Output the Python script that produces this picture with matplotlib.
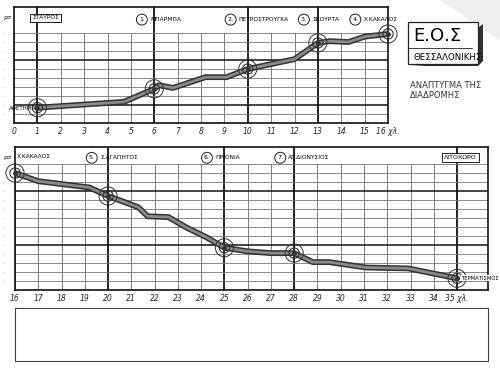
import numpy as np
import matplotlib
matplotlib.use("Agg")
import matplotlib.pyplot as plt
from matplotlib.patches import Rectangle, Polygon

# top profile: km 0-16
top_km = [1, 4.7, 6, 6.2, 6.8, 8.2, 9.1, 10, 12, 13, 13.5, 14.3, 15, 16]
top_alt = [1.7, 2.35, 3.8, 4.2, 3.9, 5.1, 5.1, 6.0, 7.1, 8.9, 9.1, 9.0, 9.6, 9.9]
top_stop_km = [1, 6, 10, 13, 16]
top_stop_alt = [1.7, 3.8, 6.0, 8.9, 9.9]
top_ticks = list(range(0, 17))

# bottom profile: km 16-35
bot_km = [16, 17, 19.2, 20, 21.3, 21.7, 22.6, 23.4, 24.2, 25, 26, 27, 28, 28.8, 29.5, 31.1, 32.9, 35]
bot_alt = [13.0, 12.1, 11.4, 10.45, 9.2, 8.2, 8.1, 6.9, 5.9, 4.7, 4.3, 4.1, 4.1, 3.1, 3.1, 2.5, 2.4, 1.3]
bot_stop_km = [16, 20, 25, 28, 35]
bot_stop_alt = [13.0, 10.45, 4.7, 4.1, 1.3]
bot_ticks = list(range(16, 36))

top_labels = [("1.", "ΜΠΑΡΜΠΑ", 5.47), ("2.", "ΠΕΤΡΟΣΤΡΟΥΓΚΑ", 9.27),
              ("3.", "ΣΚΟΥΡΤΑ", 12.4), ("4.", "Χ.ΚΑΚΑΛΟΣ", 14.6)]
bot_labels = [("5.", "Σ.ΑΓΑΠΗΤΟΣ", 19.3), ("6.", "ΠΡΙΟΝΙΑ", 24.25),
              ("7.", "ΑΓ.ΔΙΟΝΥΣΙΟΣ", 27.4)]

W, H = 500, 386
fig = plt.figure(figsize=(5, 3.86), dpi=100)
fig.patch.set_facecolor("white")


def ax_px(x0, y0, x1, y1):
    return fig.add_axes([x0 / W, (H - y1) / H, (x1 - x0) / W, (y1 - y0) / H])


def draw_grid(ax, ticks, thick_x, nlev, thick_y, ytop):
    for k in ticks:
        if k in thick_x:
            ax.axvline(k, color="#111111", lw=1.3, zorder=1)
        else:
            ax.plot([k, k], [0, nlev], color="#666666", lw=0.6, zorder=1)
    for lv in range(1, nlev + 1):
        if lv in thick_y:
            ax.axhline(lv, color="#111111", lw=1.1, zorder=1)
        else:
            ax.axhline(lv, color="#777777", lw=0.6, zorder=1)
    ax.set_ylim(0, ytop)
    ax.set_yticks(range(1, nlev + 1))
    ax.set_yticklabels(["·"] * nlev, fontsize=4, color="#555555")
    ax.tick_params(axis="y", length=0, pad=8)
    ax.tick_params(axis="x", length=0, pad=3, labelsize=5.5, labelcolor="#222222")
    for s in ax.spines.values():
        s.set_color("#111111")
        s.set_linewidth(1.2)


def draw_profile(ax, km, alt, skm, salt):
    ax.plot(km, alt, color="#333333", lw=4.2, solid_capstyle="round", zorder=3)
    ax.plot(km, alt, color="#8a8a8a", lw=2.0, solid_capstyle="round", zorder=4)
    ax.scatter(skm, salt, s=170, facecolors="none", edgecolors="#333333", lw=0.7,
               zorder=5, clip_on=False)
    ax.scatter(skm, salt, s=55, facecolors="none", edgecolors="#333333", lw=0.8,
               zorder=5, clip_on=False)
    ax.scatter(skm, salt, s=6, color="#333333", zorder=5, clip_on=False)


def station(ax, num, name, x, y):
    ax.text(x, y, num, fontsize=4.5, ha="center", va="center", zorder=6,
            bbox=dict(boxstyle="circle,pad=0.4", fc="white", ec="#222222", lw=0.7))
    ax.text(x + 0.35, y, name, fontsize=4.2, ha="left", va="center", zorder=6)


# top chart
ax1 = ax_px(14, 7, 388, 123)
ax1.set_xlim(0, 16)
draw_grid(ax1, top_ticks, [1, 6, 10, 13], 10, [2, 7], 12.9)
ax1.set_xticks(top_ticks)
ax1.set_xticklabels([str(t) for t in top_ticks[:-1]] + ["16 χλ."], fontstyle="italic")
draw_profile(ax1, top_km, top_alt, top_stop_km, top_stop_alt)
ax1.text(1.35, 11.7, "ΣΤΑΥΡΟΣ", fontsize=4.2, ha="center", va="center", zorder=6,
         bbox=dict(boxstyle="square,pad=0.3", fc="white", ec="#222222", lw=0.7))
for num, name, x in top_labels:
    station(ax1, num, name, x, 11.5)
ax1.text(0.95, 1.6, "ΑΦΕΤΗΡΙΑ", fontsize=4, ha="right", va="center", zorder=6)
fig.text(3 / W, 1 - 18 / H, "ρσ", fontsize=4.5, ha="left", va="center")

# bottom chart
ax2 = ax_px(15, 147, 488, 290)
ax2.set_xlim(16, 36.33)
draw_grid(ax2, bot_ticks, [20, 25, 28, 35], 14, [5, 11], 15.9)
ax2.set_xticks(bot_ticks)
ax2.set_xticklabels([str(t) for t in bot_ticks[:-1]] + ["35 χλ."], fontstyle="italic")
draw_profile(ax2, bot_km, bot_alt, bot_stop_km, bot_stop_alt)
ax2.text(16.1, 14.8, "Χ.ΚΑΚΑΛΟΣ", fontsize=4.2, ha="left", va="center", zorder=6)
for num, name, x in bot_labels:
    station(ax2, num, name, x, 14.7)
ax2.text(35.15, 14.7, "ΛΙΤΟΧΩΡΟ", fontsize=4.5, ha="center", va="center", zorder=6,
         bbox=dict(boxstyle="square,pad=0.3", fc="white", ec="#222222", lw=0.7))
ax2.text(35.2, 1.3, "ΤΕΡΜΑΤΙΣΜΟΣ", fontsize=3.8, ha="left", va="center", zorder=6,
         bbox=dict(boxstyle="square,pad=0.1", fc="white", ec="none"))
fig.text(3 / W, 1 - 158 / H, "ρσ", fontsize=4.5, ha="left", va="center")

# empty notes box
ax3 = ax_px(15, 308, 488, 361)
ax3.set_xticks([])
ax3.set_yticks([])
for s in ax3.spines.values():
    s.set_color("#444444")
    s.set_linewidth(0.8)

# title block
axt = fig.add_axes([0, 0, 1, 1], facecolor="none")
axt.set_xlim(0, W)
axt.set_ylim(H, 0)
axt.axis("off")
axt.add_patch(Polygon([[440, 0], [500, 0], [500, 40]], closed=True, fc="#eeeeee", ec="none"))
axt.add_patch(Polygon([[411, 66], [478, 66], [483, 61], [483, 24], [478, 28], [478, 61]],
                      closed=True, fc="#333333", ec="none"))
axt.add_patch(Rectangle((408, 22), 70, 42, fc="white", ec="#222222", lw=0.9))
axt.plot([408, 472], [48, 48], color="#222222", lw=0.6)
axt.text(413, 36, "Ε.Ο.Σ", fontsize=13, ha="left", va="center")
axt.text(413, 57, "ΘΕΣΣΑΛΟΝΙΚΗΣ", fontsize=6.2, ha="left", va="center")
axt.text(410, 85, "ΑΝΑΠΤΥΓΜΑ ΤΗΣ", fontsize=6, ha="left", va="center", color="#333333")
axt.text(410, 95, "ΔΙΑΔΡΟΜΗΣ", fontsize=6, ha="left", va="center", color="#333333")

fig.savefig("out.png", dpi=100, facecolor="white")
